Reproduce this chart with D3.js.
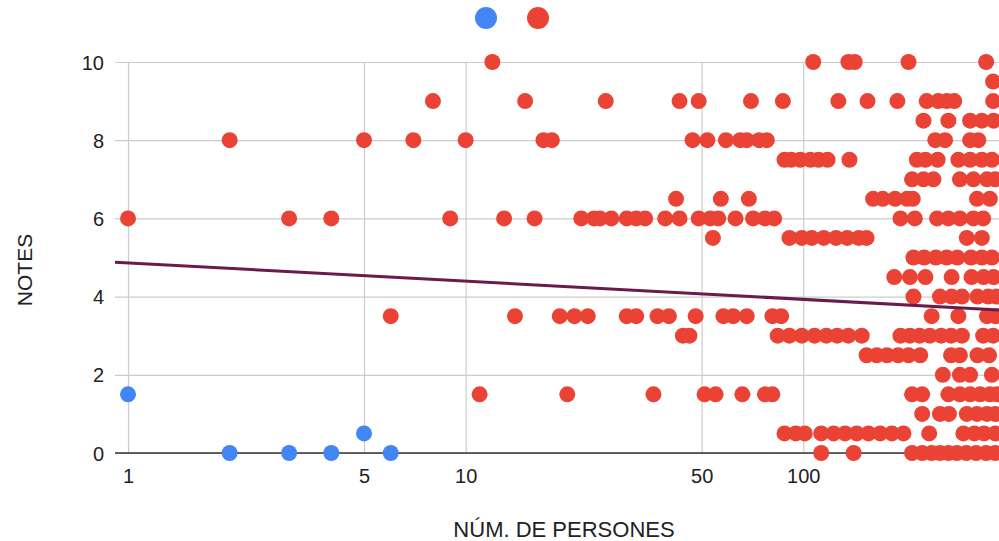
<!DOCTYPE html>
<html>
<head>
<meta charset="utf-8">
<script src="https://cdn.jsdelivr.net/npm/d3@7"></script>
<style>
  html, body { margin: 0; padding: 0; background: #fff; }
  svg { display: block; font-family: Arial, "Liberation Sans", sans-serif; }
</style>
</head>
<body>
<div id="chart"></div>
<script>
// blue series (no name in legend)
var blueX = [1, 2, 3, 4, 5, 6];
var blueY = [1.5, 0, 0, 0, 0.5, 0];

// red series, grouped by grade (NOTES) -> list of NÚM. DE PERSONES
var grades = [10, 9.5, 9, 8.5, 8, 7.5, 7, 6.5, 6, 5.5, 5, 4.5, 4, 3.5, 3, 2.5, 2, 1.5, 1, 0.5, 0];
var personsByGrade = [
  [12, 107, 136, 142, 205, 348],
  [365],
  [8, 15, 26, 43, 49, 70, 87, 127, 155, 190, 232, 251, 266, 280, 365],
  [227, 269, 312, 338, 366],
  [2, 5, 7, 10, 17, 18, 47, 52, 59, 65, 68, 74, 78, 246, 263, 312, 330],
  [88, 92, 98, 105, 111, 118, 137, 217, 230, 250, 288, 312, 338, 362],
  [210, 227, 243, 291, 319, 350, 370],
  [42, 57, 69, 161, 172, 187, 203, 211, 327, 357],
  [1, 3, 4, 9, 13, 16, 22, 24, 25, 27, 30, 32, 34, 39, 43, 49, 53, 56, 63, 71, 77, 82, 194, 214, 249, 269, 291, 319, 341],
  [54, 91, 99, 106, 115, 125, 135, 146, 154, 305, 338],
  [212, 228, 247, 266, 286, 314, 338, 362],
  [186, 207, 230, 275, 315, 342, 366],
  [212, 254, 275, 295, 328, 353, 373],
  [6, 14, 19, 21, 23, 30, 32, 37, 40, 48, 58, 62, 68, 81, 86, 240, 288, 350, 371],
  [44, 46, 84, 91, 99, 108, 117, 126, 136, 149, 194, 207, 221, 237, 256, 274, 295, 341, 365],
  [154, 165, 177, 191, 205, 222, 274, 291, 328, 355],
  [259, 291, 312, 362],
  [11, 20, 36, 51, 55, 66, 77, 81, 210, 225, 269, 291, 312, 334, 357, 375],
  [225, 254, 270, 305, 327, 350, 370],
  [88, 95, 101, 113, 123, 133, 144, 156, 169, 183, 198, 236, 298, 321, 343, 370],
  [113, 141, 210, 225, 240, 254, 269, 285, 304, 325, 348, 370]
];

// logarithmic trendline, read at the plot edges
var trendX = [0.915, 418];
var trendY = [4.88, 3.64];

var xTicks = [1, 5, 10, 50, 100];
var yTicks = [0, 2, 4, 6, 8, 10];
var seriesColors = ["#4285f4", "#ea4335"];

var width = 999, height = 541;
var plotLeft = 115, plotRight = 1013, plotTop = 62, plotBottom = 453;

var svg = d3.select("#chart").append("svg")
    .attr("width", width)
    .attr("height", height);

var x = d3.scaleLog().domain([0.915, 418]).range([plotLeft, plotRight]);
var y = d3.scaleLinear().domain([0, 10]).range([plotBottom, plotTop]);

// horizontal grid + y labels
var gy = svg.append("g")
    .attr("transform", "translate(" + plotLeft + ",0)")
    .call(d3.axisLeft(y).tickValues(yTicks).tickSize(-(plotRight - plotLeft)));
gy.select(".domain").remove();
gy.selectAll(".tick line").attr("stroke", "#cccccc").attr("stroke-width", 1.2);
gy.selectAll(".tick text")
    .attr("x", -11).attr("dy", "0.35em")
    .attr("font-size", 20).attr("fill", "#222");

// vertical grid + x labels
var gx = svg.append("g")
    .attr("transform", "translate(0," + plotBottom + ")")
    .call(d3.axisBottom(x).tickValues(xTicks).tickFormat(d3.format("d")).tickSize(-(plotBottom - plotTop)));
gx.select(".domain").remove();
gx.selectAll(".tick line").attr("stroke", "#cccccc").attr("stroke-width", 1.2);
gx.selectAll(".tick text")
    .attr("y", 30).attr("dy", 0)
    .attr("font-size", 20).attr("fill", "#222");

// baseline
svg.append("line")
    .attr("x1", plotLeft).attr("x2", plotRight)
    .attr("y1", y(0)).attr("y2", y(0))
    .attr("stroke", "#333").attr("stroke-width", 1.6);

// points
var blue = blueX.map(function(d, i) { return { x: d, y: blueY[i] }; });
var red = [];
grades.forEach(function(g, i) {
    personsByGrade[i].forEach(function(p) { red.push({ x: p, y: g }); });
});

svg.append("g").selectAll("circle")
    .data(blue).enter().append("circle")
    .attr("cx", function(d) { return x(d.x); })
    .attr("cy", function(d) { return y(d.y); })
    .attr("r", 8)
    .attr("fill", seriesColors[0]);

svg.append("g").selectAll("circle")
    .data(red).enter().append("circle")
    .attr("cx", function(d) { return x(d.x); })
    .attr("cy", function(d) { return y(d.y); })
    .attr("r", 8)
    .attr("fill", seriesColors[1]);

// trendline
var trend = trendX.map(function(d, i) { return [d, trendY[i]]; });
svg.append("path")
    .datum(trend)
    .attr("fill", "none")
    .attr("stroke", "#6b1a4c")
    .attr("stroke-width", 3)
    .attr("d", d3.line().x(function(d) { return x(d[0]); }).y(function(d) { return y(d[1]); }));

// legend (series have no names)
svg.append("g").selectAll("circle")
    .data(seriesColors).enter().append("circle")
    .attr("cx", function(d, i) { return 486 + i * 52; })
    .attr("cy", 18)
    .attr("r", 11)
    .attr("fill", function(d) { return d; });

// axis titles
svg.append("text")
    .attr("transform", "translate(32,270) rotate(-90)")
    .attr("text-anchor", "middle")
    .attr("font-size", 21)
    .attr("fill", "#222")
    .text("NOTES");

svg.append("text")
    .attr("x", 564)
    .attr("y", 537)
    .attr("text-anchor", "middle")
    .attr("font-size", 22)
    .attr("fill", "#222")
    .text("NÚM. DE PERSONES");
</script>
</body>
</html>
